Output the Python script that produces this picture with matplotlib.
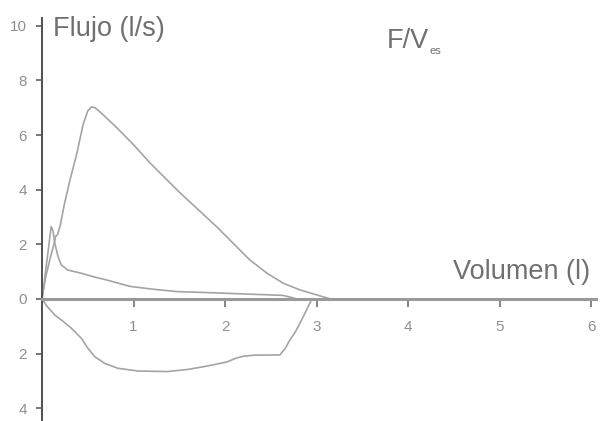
import matplotlib
matplotlib.use('Agg')
import matplotlib.pyplot as plt

# Expiratory loop (big effort)
vol_exp = [0, 0.04, 0.09, 0.13, 0.15, 0.17, 0.20, 0.24, 0.306, 0.379, 0.45,
           0.50, 0.54, 0.58, 0.65, 0.82, 1.0, 1.18, 1.51, 1.91, 2.27, 2.46,
           2.64, 2.82, 3.0, 3.15]
flow_exp = [0, 0.8, 1.5, 2.0, 2.3, 2.35, 2.7, 3.4, 4.36, 5.3, 6.4,
            6.88, 7.03, 7.0, 6.8, 6.26, 5.65, 4.98, 3.88, 2.64, 1.43, 0.94,
            0.57, 0.33, 0.15, 0.0]

# Small early-peak curve
vol_b = [0, 0.02, 0.05, 0.08, 0.10, 0.12, 0.14, 0.175, 0.21, 0.28, 0.43,
         0.575, 0.7, 0.96, 1.2, 1.47, 1.91, 2.3, 2.63, 2.72, 2.78]
flow_b = [0, 0.5, 1.3, 2.1, 2.65, 2.5, 2.04, 1.55, 1.25, 1.06, 0.94,
          0.8, 0.7, 0.46, 0.36, 0.27, 0.22, 0.17, 0.13, 0.06, 0.0]

# Inspiratory part (drawn below zero)
vol_ins = [0, 0.05, 0.14, 0.23, 0.32, 0.43, 0.50, 0.575, 0.685, 0.83, 1.05,
           1.37, 1.6, 1.8, 2.02, 2.12, 2.2, 2.31, 2.6, 2.66, 2.71, 2.77,
           2.82, 2.87, 2.92, 2.95]
flow_ins = [0, -0.25, -0.59, -0.82, -1.07, -1.44, -1.8, -2.11, -2.36, -2.54,
            -2.64, -2.66, -2.58, -2.46, -2.31, -2.17, -2.1, -2.06, -2.05,
            -1.8, -1.5, -1.2, -0.88, -0.55, -0.2, 0.0]

x_ticks = [1, 2, 3, 4, 5, 6]
y_ticks = [-4, -2, 0, 2, 4, 6, 8, 10]

FONT = 'Liberation Sans'
LINE_C = '#a4a4a4'
TXT_C = '#707070'
TICK_C = '#909090'

fig = plt.figure(figsize=(6.01, 4.21), dpi=100)
ax = fig.add_axes([42 / 601, 0.0, (595.6 - 42) / 601, 405 / 421])
ax.set_xlim(0, 6.05)
ax.set_ylim(-4.47, 10.36)

ax.plot(vol_exp, flow_exp, color=LINE_C, lw=1.2)
ax.plot(vol_b, flow_b, color=LINE_C, lw=1.2)
ax.plot(vol_ins, flow_ins, color=LINE_C, lw=1.2)

for s in ['top', 'right']:
    ax.spines[s].set_visible(False)
ax.spines['bottom'].set_position(('data', 0))
ax.spines['bottom'].set_color('#9a9a9a')
ax.spines['bottom'].set_linewidth(2.2)
ax.spines['left'].set_color('#505050')
ax.spines['left'].set_linewidth(1.4)
ax.spines['left'].set_bounds(-4.47, 10.3)

ax.set_xticks(x_ticks)
ax.set_xticklabels([str(t) for t in x_ticks])
ax.set_yticks(y_ticks)
ax.set_yticklabels([str(abs(t)) for t in y_ticks])
ax.tick_params(axis='x', direction='out', length=6, width=1.2, color='#707070',
               pad=9, labelsize=11, labelcolor=TICK_C)
ax.tick_params(axis='y', direction='out', length=4, width=1.2, color='#606060',
               pad=7, labelsize=11, labelcolor=TICK_C)
for lbl in ax.get_xticklabels() + ax.get_yticklabels():
    lbl.set_fontfamily(FONT)

ax.text(0.12, 9.9, 'Flujo (l/s)', fontsize=19.5, color=TXT_C, family=FONT,
        va='center', ha='left')
ax.text(5.99, 0.99, 'Volumen (l)', fontsize=19.5, color=TXT_C, family=FONT,
        va='center', ha='right')
t = ax.text(3.77, 9.45, 'F/V', fontsize=19.5, color=TXT_C, family=FONT,
            va='center', ha='left')
ax.annotate('es', xy=(1.0, 0.12), xycoords=t, fontsize=8, color=TXT_C,
            family=FONT, va='center', ha='left')

fig.savefig('out.png', dpi=100)
